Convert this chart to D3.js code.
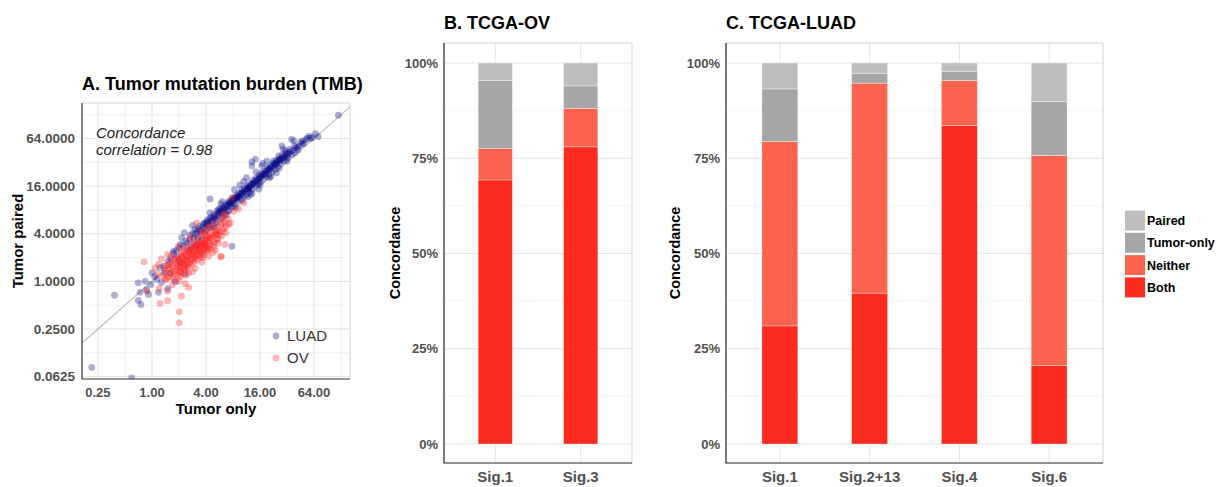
<!DOCTYPE html>
<meta charset="utf-8">
<head>
    <script type="text/javascript" src="https://cdn.jsdelivr.net/npm/d3@7"></script>
    <style>
        body { margin: 0; background: #fff; }
        svg text { font-family: "Liberation Sans", Arial, sans-serif; }
    </style>
</head>
<body>
<div id="chart"></div>
<script>
// ---- panel A data: log2 TMB, [tumor only, tumor paired] ----
var tmbTicksX = [0.25, 1, 4, 16, 64];
var tmbTicksY = [0.0625, 0.25, 1, 4, 16, 64];

var luadLog2 = [
  [-2.23,-3.61],[-0.75,-4.05],[-1.39,-0.58],[-0.51,-0.80],[-0.41,-0.97],[-0.51,-0.06],[-0.44,-0.46],
  [-0.25,0.0],[-0.13,-0.55],[-0.04,-0.13],[0.0,0.36],[0.18,0.08],[0.24,-0.46],[0.30,0.57],[0.58,-0.31],
  [0.86,-0.02],[1.23,0.32],[0.80,1.17],[0.43,0.63],[1.04,0.78],[0.68,0.36],
  [2.15,3.46],[2.15,2.87],[2.96,1.47],[0.79,1.26],[0.60,0.85],[1.10,1.83],[1.59,2.18],[2.01,2.47],
  [2.46,3.01],[2.83,3.31],[3.20,3.58],[3.58,3.94],[3.95,4.15],
  [6.90,6.98],[5.93,6.04],[5.56,5.76],[5.25,5.90],[5.37,5.62],[4.81,5.69],[5.06,5.41],[4.94,5.20],
  [4.69,5.27],[4.57,4.92],[3.70,5.02],[3.83,5.13],[3.70,4.85],[4.07,4.85],[4.32,4.71],[4.20,4.50],
  [4.01,4.36],[3.76,4.15],[3.58,3.87],[3.33,3.73],[3.14,3.52],[2.96,3.45],[3.95,3.87],[4.94,5.48],
  [4.50,5.06],[4.75,5.13],[5.87,6.0],[5.17,5.96],
  [1.30,1.62],[1.42,1.95],[1.55,1.80],[1.68,2.10],[1.75,2.31],[1.82,2.05],[1.90,2.40],[1.97,2.22],
  [2.05,2.58],[2.10,2.35],[2.18,2.70],[2.24,2.52],[2.30,2.81],[2.35,2.60],[2.41,2.95],[2.47,2.74],
  [2.52,3.05],[2.58,2.86],[2.63,3.12],[2.68,2.92],[2.74,3.22],[2.79,3.00],[2.85,3.36],[2.90,3.14],
  [2.95,3.28],[3.01,3.50],[3.06,3.25],[3.11,3.60],[3.16,3.38],[3.22,3.70],[3.27,3.47],[3.32,3.85],
  [3.38,3.58],[3.43,3.92],[3.48,3.66],[3.53,4.02],[3.59,3.76],[3.64,4.10],[3.69,3.90],[3.74,4.25],
  [3.80,4.00],[3.85,4.33],[3.90,4.08],[3.96,4.45],[4.01,4.18],[4.06,4.55],[4.12,4.30],[4.17,4.62],
  [4.22,4.41],[4.28,4.78],[4.33,4.52],[4.38,4.86],[4.44,4.63],[4.49,4.95],[4.54,4.72],[4.60,5.08],
  [4.65,4.84],[4.71,5.15],[4.76,4.96],[4.82,5.30],[4.88,5.05],[4.95,5.38],[5.02,5.18],[5.10,5.55],
  [5.18,5.32],[5.28,5.70],[5.40,5.52],[5.50,5.85],[5.62,5.80],[5.75,6.02],
  [2.60,3.35],[3.05,3.85],[3.40,4.20],[3.55,3.55],[2.20,2.25],[2.75,2.80],[3.85,4.60],[4.10,4.95],
  [4.40,4.40],[1.50,2.35],[1.20,2.05],[1.00,1.40],[1.35,1.30],[1.85,1.75],[2.40,2.45],[3.10,3.10],
  [4.60,4.55],[5.30,5.40],[3.70,3.70],[2.85,2.95],[1.65,1.55],[0.95,1.05],[1.15,1.50],[0.70,0.95],
  [0.45,0.35],[0.10,0.20],[-0.20,-0.35],[0.35,-0.05],
  [1.40,1.75],[1.52,2.02],[1.62,1.98],[1.72,2.20],[1.80,2.15],[1.88,2.30],[1.95,2.45],[2.02,2.38],
  [2.08,2.50],[2.14,2.62],[2.20,2.55],[2.27,2.68],[2.33,2.75],[2.38,2.70],[2.44,2.86],[2.50,2.90],
  [2.55,2.95],[2.61,3.02],[2.66,3.05],[2.72,3.10],[2.77,3.18],[2.82,3.20],[2.88,3.26],[2.93,3.35],
  [2.99,3.40],[3.04,3.42],[3.09,3.48],[3.14,3.55],[3.19,3.52],[3.25,3.62],[3.30,3.66],[3.35,3.72],
  [3.41,3.78],[3.46,3.82],[3.51,3.88],[3.56,3.92],[3.62,3.98],[3.67,4.04],[3.72,4.08],[3.77,4.12],
  [3.82,4.20],[3.88,4.24],[3.93,4.30],[3.98,4.36],[4.04,4.42],[4.09,4.46],[4.14,4.50],[4.19,4.56],
  [4.25,4.64],[4.30,4.66],[4.36,4.72],[4.41,4.78],[4.46,4.84],[4.52,4.88],[4.57,4.94],[4.62,4.98],
  [4.68,5.05],[4.73,5.08],[4.79,5.14],[4.85,5.20],[4.91,5.25],[4.98,5.30],[5.05,5.34],[5.13,5.45],
  [5.22,5.50],[5.33,5.62],[5.45,5.68],[5.58,5.90],[5.70,5.95],[5.82,6.10],[6.05,6.20],[6.15,6.08],
  [0.90,1.30],[1.05,1.55],[1.25,1.70],[1.45,1.45],[1.70,1.85],[2.00,2.10],[2.30,2.30],[2.60,2.65],
  [3.00,3.15],[3.35,3.40],[3.65,3.65],[4.00,4.05],[4.35,4.35],[4.70,4.75],[5.00,5.05],[3.25,4.05],
  [3.50,4.35],[4.25,5.05],[4.85,5.55],[2.55,3.25]
];

var ovLog2 = [
  [-0.29,0.82],[-0.19,-0.41],[0.30,-0.93],[0.58,-0.81],[0.58,-0.41],[0.27,-0.30],[1.01,-1.28],
  [1.01,-1.74],[1.09,-0.62],[1.23,-0.10],[1.36,-0.25],[0.77,0.15],[0.49,0.08],[0.24,0.71],[0.12,0.57],
  [0.58,1.13],[1.05,0.42],[1.29,0.71],[1.54,1.13],[1.85,1.20],[2.54,1.03],[2.09,1.34],[1.65,2.45],
  [2.57,1.05],[2.39,1.97],[1.96,1.47],[1.09,1.05],[0.97,1.47],[2.71,2.73],[3.02,2.94],[2.96,3.52],
  [0.40,0.20],[0.48,0.45],[0.55,0.10],[0.62,0.55],[0.68,0.30],[0.74,0.72],[0.80,0.40],[0.85,0.05],
  [0.88,0.80],[0.93,0.55],[0.98,0.25],[1.02,0.90],[1.06,0.62],[1.10,0.35],[1.14,1.00],[1.18,0.72],
  [1.22,0.48],[1.26,1.10],[1.30,0.85],[1.34,0.60],[1.38,1.22],[1.42,0.95],[1.46,0.70],[1.50,1.35],
  [1.54,1.05],[1.57,0.82],[1.61,1.45],[1.65,1.15],[1.68,0.90],[1.72,1.55],[1.76,1.28],[1.80,1.00],
  [1.84,1.65],[1.88,1.40],[1.92,1.12],[1.96,1.75],[2.00,1.50],[2.04,1.25],[2.08,1.85],[2.12,1.60],
  [2.16,1.35],[2.20,1.95],[2.25,1.70],[2.30,1.45],[2.35,2.08],[2.40,1.80],[2.45,2.25],[2.50,1.95],
  [2.56,2.38],[2.62,2.10],[2.68,2.50],[2.75,2.30],[2.82,2.62],[2.90,2.45],[1.20,1.25],[1.45,1.50],
  [1.70,1.75],[1.95,2.00],[2.20,2.25],[0.90,1.00],[0.65,0.80],[1.35,0.35],[1.60,0.55],[1.85,0.80],
  [2.10,1.05],[1.00,0.00],[0.75,-0.15],[1.55,1.70],[1.80,1.95],[2.05,2.15],[1.25,1.45],[2.30,2.45],
  [2.55,2.65],[0.50,0.65],[0.20,0.30],[0.35,0.95],[1.40,1.85],[1.10,1.25],[2.65,2.85],[1.75,1.30],
  [1.15,0.80],[0.95,0.70],[2.45,1.60],[2.25,1.20],[0.70,1.05],[1.50,0.40],[1.90,1.00],[2.00,1.80],
  [1.30,1.05],[1.65,1.40],[3.20,3.05],[3.40,3.30],
  [0.55,0.35],[0.62,0.18],[0.70,0.50],[0.78,0.62],[0.83,0.28],[0.90,0.45],[0.96,0.85],[1.00,0.60],
  [1.04,0.40],[1.08,0.78],[1.12,0.55],[1.16,0.92],[1.20,0.62],[1.24,0.88],[1.28,0.55],[1.32,1.00],
  [1.36,0.75],[1.40,1.10],[1.44,0.82],[1.48,1.18],[1.52,0.92],[1.56,1.25],[1.60,1.00],[1.64,1.32],
  [1.68,1.08],[1.72,1.40],[1.76,1.12],[1.80,1.48],[1.84,1.22],[1.88,1.55],[1.92,1.30],[1.96,1.62],
  [2.00,1.35],[2.05,1.70],[2.10,1.45],[2.15,1.78],[2.20,1.52],[2.26,1.88],[2.32,1.62],[2.38,1.98],
  [2.44,1.75],[2.50,2.10],[2.58,1.90],[2.66,2.22],[2.74,2.05],[2.84,2.40],[1.30,1.35],[1.55,1.55],
  [1.78,1.62],[2.02,1.92],[2.28,2.02],[0.85,0.95],[1.15,1.15],[1.45,1.30],[1.70,1.50],[1.95,1.55],
  [2.15,1.85],[2.40,2.15],[2.62,2.45],[0.60,0.70],[1.05,0.20],[1.25,0.25],[2.35,1.30],[2.70,1.55],
  [1.85,2.10],[2.10,2.30]
];

// ---- panels B and C data: % of calls per category ----
var segKeys = ["Both", "Neither", "Tumor-only", "Paired"];
var segColors = ["#fc2a1f", "#fc6450", "#a6a6a6", "#bebebe"];
var concordTicks = [0, 25, 50, 75, 100];

var ovSigs = ["Sig.1", "Sig.3"];
var ovBoth = [69.3, 78.0];
var ovNeither = [8.3, 10.1];
var ovTumorOnly = [17.8, 5.9];
var ovPaired = [4.6, 6.0];

var luadSigs = ["Sig.1", "Sig.2+13", "Sig.4", "Sig.6"];
var luadBoth = [31.0, 39.6, 83.6, 20.6];
var luadNeither = [48.4, 55.1, 11.8, 55.1];
var luadTumorOnly = [13.8, 2.6, 2.4, 14.2];
var luadPaired = [6.8, 2.7, 2.2, 10.1];

var svg = d3.select("#chart").append("svg")
    .attr("width", 1220).attr("height", 487)
    .style("background", "#fff");

var tickColor = "#505050";

// ================= Panel A =================
var A = {left: 82, right: 350, top: 103, bottom: 379};
var x = d3.scaleLog().base(2).domain([Math.pow(2, -2.59), Math.pow(2, 7.33)]).range([A.left, A.right]);
var y = d3.scaleLog().base(2).domain([Math.pow(2, -4.1), Math.pow(2, 7.49)]).range([A.bottom, A.top]);

var luad = luadLog2.map(function(p) { return [Math.pow(2, p[0]), Math.pow(2, p[1])]; });
var ov = ovLog2.map(function(p) { return [Math.pow(2, p[0]), Math.pow(2, p[1])]; });

var gA = svg.append("g");
var powX = d3.range(-2, 8), powY = d3.range(-4, 8);
gA.selectAll(".gx").data(powX).enter().append("line")
    .attr("x1", d => x(Math.pow(2, d))).attr("x2", d => x(Math.pow(2, d)))
    .attr("y1", A.top).attr("y2", A.bottom)
    .attr("stroke", d => d % 2 === 0 ? "#e2e2e2" : "#eeeeee").attr("stroke-width", d => d % 2 === 0 ? 1 : 0.8);
gA.selectAll(".gy").data(powY).enter().append("line")
    .attr("y1", d => y(Math.pow(2, d))).attr("y2", d => y(Math.pow(2, d)))
    .attr("x1", A.left).attr("x2", A.right)
    .attr("stroke", d => d % 2 === 0 ? "#e2e2e2" : "#eeeeee").attr("stroke-width", d => d % 2 === 0 ? 1 : 0.8);

// border top/right
gA.append("path").attr("d", "M" + A.left + "," + A.top + "H" + A.right + "V" + A.bottom)
    .attr("fill", "none").attr("stroke", "#d4d4d4");

gA.append("clipPath").attr("id", "clipA").append("rect")
    .attr("x", A.left).attr("y", A.top).attr("width", A.right - A.left).attr("height", A.bottom - A.top);

var pts = gA.append("g").attr("clip-path", "url(#clipA)");
// y = x reference
var lo = Math.pow(2, -2.59), hi = Math.pow(2, 7.49);
pts.append("line")
    .attr("x1", x(lo)).attr("y1", y(lo)).attr("x2", x(hi)).attr("y2", y(hi))
    .attr("stroke", "#bdbdbd").attr("stroke-width", 1.2);

pts.selectAll(".luad").data(luad).enter().append("circle")
    .attr("cx", d => x(d[0])).attr("cy", d => y(d[1])).attr("r", 3.4)
    .attr("fill", "#000080").attr("fill-opacity", 0.32);
pts.selectAll(".ov").data(ov).enter().append("circle")
    .attr("cx", d => x(d[0])).attr("cy", d => y(d[1])).attr("r", 3.4)
    .attr("fill", "#ff1a1a").attr("fill-opacity", 0.32);

// axes lines
gA.append("path").attr("d", "M" + A.left + "," + A.top + "V" + A.bottom + "H" + A.right)
    .attr("fill", "none").attr("stroke", "#333").attr("stroke-width", 1.2);

gA.selectAll(".tx").data(tmbTicksX).enter().append("text")
    .attr("x", d => x(d)).attr("y", 397).attr("text-anchor", "middle")
    .attr("font-size", 13).attr("font-weight", "bold").attr("fill", tickColor)
    .text(d => d.toFixed(2));
gA.selectAll(".ty").data(tmbTicksY).enter().append("text")
    .attr("x", 75).attr("y", d => y(d)).attr("dy", "0.35em").attr("text-anchor", "end")
    .attr("font-size", 13.5).attr("font-weight", "bold").attr("fill", tickColor)
    .text(d => d.toFixed(4));

gA.append("text").attr("x", (A.left + A.right) / 2).attr("y", 414).attr("text-anchor", "middle")
    .attr("font-size", 15).attr("font-weight", "bold").attr("fill", "#000").text("Tumor only");
var midA = (A.top + A.bottom) / 2;
gA.append("text").attr("x", 23).attr("y", midA)
    .attr("transform", "rotate(-90,23," + midA + ")")
    .attr("text-anchor", "middle")
    .attr("font-size", 15).attr("font-weight", "bold").attr("fill", "#000").text("Tumor paired");
gA.append("text").attr("x", 82).attr("y", 90)
    .attr("font-size", 18).attr("font-weight", "bold").attr("fill", "#000")
    .text("A. Tumor mutation burden (TMB)");

gA.append("text").attr("x", 96).attr("y", 138).attr("font-size", 15).attr("font-style", "italic")
    .attr("fill", "#222").text("Concordance");
gA.append("text").attr("x", 96).attr("y", 155).attr("font-size", 15).attr("font-style", "italic")
    .attr("fill", "#222").text("correlation = 0.98");

var legA = [["LUAD", "#000080"], ["OV", "#ff1a1a"]];
legA.forEach(function(l, i) {
    gA.append("circle").attr("cx", 276).attr("cy", 336 + i * 22).attr("r", 3.4)
        .attr("fill", l[1]).attr("fill-opacity", 0.32);
    gA.append("text").attr("x", 287).attr("y", 336 + i * 22).attr("dy", "0.36em")
        .attr("font-size", 15).attr("fill", "#333").text(l[0]);
});

// ================= Panels B & C =================
var plotTop = 43, plotBottom = 463;
var yB = d3.scaleLinear().domain([0, 100]).range([444, 63]);

function drawBars(cats, both, neither, tonly, paired, left, right, title, yTitleX) {
    var g = svg.append("g");
    var rows = cats.map(function(c, i) {
        return {cat: c, "Both": both[i], "Neither": neither[i], "Tumor-only": tonly[i], "Paired": paired[i]};
    });
    var xb = d3.scalePoint().domain(cats).range([left, right]).padding(0.6);
    var bw = xb.step() * 0.4;

    // grid
    var minor = [12.5, 37.5, 62.5, 87.5];
    g.selectAll(".mn").data(minor).enter().append("line")
        .attr("x1", left).attr("x2", right).attr("y1", d => yB(d)).attr("y2", d => yB(d))
        .attr("stroke", "#f1f1f1").attr("stroke-width", 0.8);
    g.selectAll(".mj").data(concordTicks).enter().append("line")
        .attr("x1", left).attr("x2", right).attr("y1", d => yB(d)).attr("y2", d => yB(d))
        .attr("stroke", "#e4e4e4").attr("stroke-width", 1);
    g.selectAll(".vx").data(cats).enter().append("line")
        .attr("x1", d => xb(d)).attr("x2", d => xb(d)).attr("y1", plotTop).attr("y2", plotBottom)
        .attr("stroke", "#e4e4e4").attr("stroke-width", 1);
    g.append("path").attr("d", "M" + left + "," + plotTop + "H" + right + "V" + plotBottom)
        .attr("fill", "none").attr("stroke", "#d4d4d4");

    var stack = d3.stack().keys(segKeys)(rows);
    g.selectAll(".layer").data(stack).enter().append("g")
        .attr("fill", (d, i) => segColors[i])
        .selectAll("rect").data(d => d).enter().append("rect")
        .attr("x", d => xb(d.data.cat) - bw / 2).attr("width", bw)
        .attr("y", d => yB(d[1])).attr("height", d => yB(d[0]) - yB(d[1]))
        .attr("stroke", "#fff").attr("stroke-opacity", 0.45).attr("stroke-width", 0.7);

    g.append("path").attr("d", "M" + left + "," + plotTop + "V" + plotBottom + "H" + right)
        .attr("fill", "none").attr("stroke", "#222").attr("stroke-width", 1.2);

    g.selectAll(".yt").data(concordTicks).enter().append("text")
        .attr("x", left - 6).attr("y", d => yB(d)).attr("dy", "0.35em").attr("text-anchor", "end")
        .attr("font-size", 13).attr("font-weight", "bold").attr("fill", tickColor)
        .text(d => d + "%");
    g.selectAll(".xt").data(cats).enter().append("text")
        .attr("x", d => xb(d)).attr("y", 482).attr("text-anchor", "middle")
        .attr("font-size", 15).attr("font-weight", "bold").attr("fill", tickColor)
        .text(d => d);
    var mid = (plotTop + plotBottom) / 2;
    g.append("text").attr("x", yTitleX).attr("y", mid)
        .attr("transform", "rotate(-90," + yTitleX + "," + mid + ")")
        .attr("text-anchor", "middle").attr("font-size", 14.5).attr("font-weight", "bold")
        .attr("fill", "#000").text("Concordance");
    g.append("text").attr("x", left).attr("y", 29)
        .attr("font-size", 18).attr("font-weight", "bold").attr("fill", "#000").text(title);
}

drawBars(ovSigs, ovBoth, ovNeither, ovTumorOnly, ovPaired, 444, 632, "B. TCGA-OV", 400);
drawBars(luadSigs, luadBoth, luadNeither, luadTumorOnly, luadPaired, 726, 1103, "C. TCGA-LUAD", 680);

// legend
var legKeys = segKeys.slice().reverse();
var legCols = segColors.slice().reverse();
var gL = svg.append("g");
legKeys.forEach(function(k, i) {
    gL.append("rect").attr("x", 1125).attr("y", 210.5 + i * 22.3).attr("width", 20).attr("height", 20)
        .attr("fill", legCols[i]);
    gL.append("text").attr("x", 1147).attr("y", 220.5 + i * 22.3).attr("dy", "0.36em")
        .attr("font-size", 12.5).attr("font-weight", "bold").attr("fill", "#000").text(k);
});
</script>
</body>
</html>
